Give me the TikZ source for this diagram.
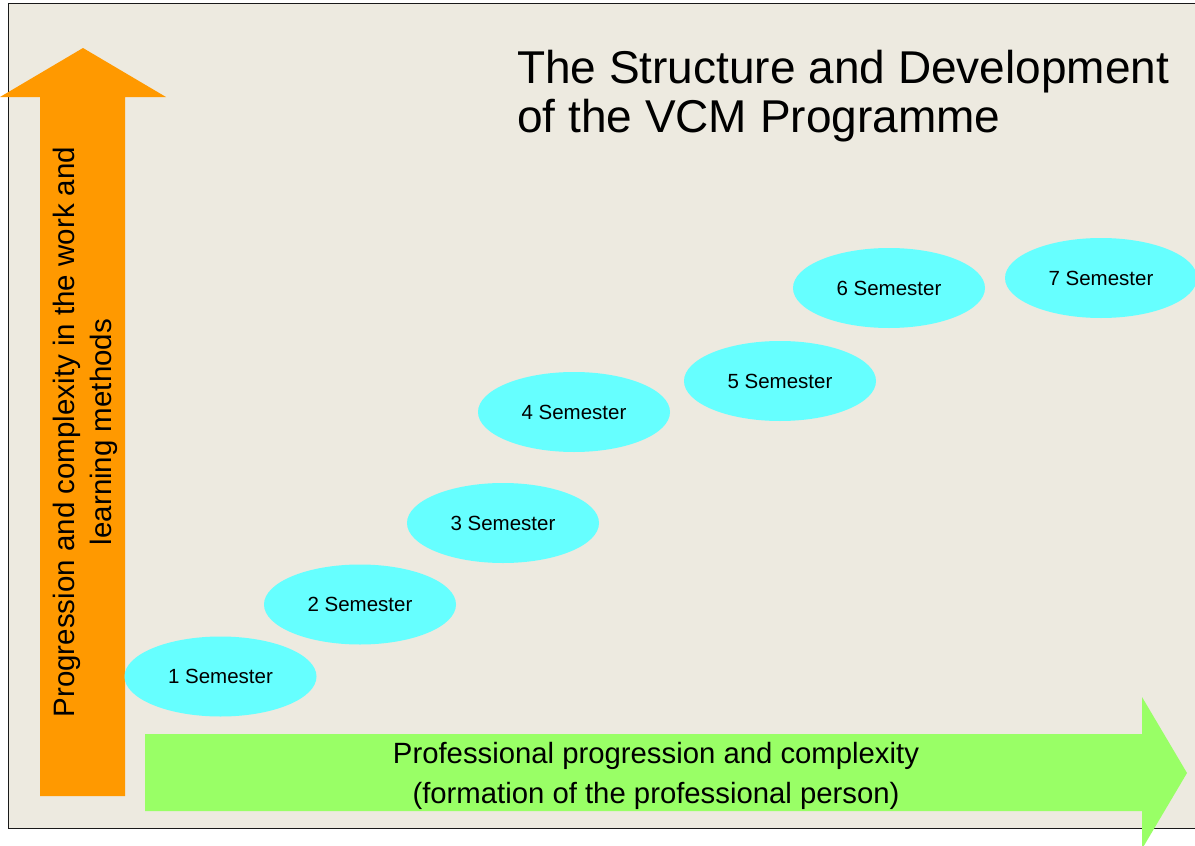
\documentclass[tikz,border=0pt]{standalone}
\usepackage{fontspec}
\setmainfont{Liberation Sans}
\usetikzlibrary{shapes.geometric}
\definecolor{paper}{HTML}{EDEAE0}
\definecolor{upcol}{HTML}{FF9900}
\definecolor{rightcol}{HTML}{99FF66}
\definecolor{semcol}{HTML}{66FFFF}
\begin{document}
\begin{tikzpicture}[x=1pt,y=-1pt,
  semester/.style={ellipse, fill=semcol, minimum width=192pt, minimum height=80pt,
    inner sep=0pt, font=\fontsize{20.5}{24}\selectfont},
  axislabel/.style={align=center, inner sep=0pt},
  bigarrow/.style={draw=none}]
\useasboundingbox (0,0) rectangle (1195,846);
\fill[white] (0,0) rectangle (1195,846);
% framed panel
\draw[fill=paper, line width=1.8pt, draw=black!90] (8.5,3.5) rectangle (1210,828.5);

% vertical arrow
\fill[upcol, bigarrow] (40,796) -- (40,97) -- (0,97) -- (83,48) -- (166,97)
  -- (125,97) -- (125,796) -- cycle;
% horizontal arrow
\fill[rightcol, bigarrow] (145,734) -- (1142,734) -- (1142,697) -- (1187,773)
  -- (1142,849) -- (1142,811) -- (145,811) -- cycle;

% title (base anchor sits on the last line)
\node[anchor=base west, align=left, inner sep=0pt,
  font=\fontsize{46}{49}\selectfont] (title) at (517,132)
  {The Structure and Development\\of the VCM Programme};

% axis labels
\node[axislabel, rotate=90, font=\fontsize{29.5}{37}\selectfont] (uplabel) at (85,432)
  {Progression and complexity in the work and\\learning methods};
\node[axislabel, font=\fontsize{29.3}{40}\selectfont] (rightlabel) at (656,775.5)
  {Professional progression and complexity\\(formation of the professional person)};

% semesters
\node[semester] (s1) at (220.5,676.5) {1 Semester};
\node[semester] (s2) at (360,604.5) {2 Semester};
\node[semester] (s3) at (503,523) {3 Semester};
\node[semester] (s4) at (574,412) {4 Semester};
\node[semester] (s5) at (780,381) {5 Semester};
\node[semester] (s6) at (889,288) {6 Semester};
\node[semester] (s7) at (1101,278) {7 Semester};
\end{tikzpicture}
\end{document}
